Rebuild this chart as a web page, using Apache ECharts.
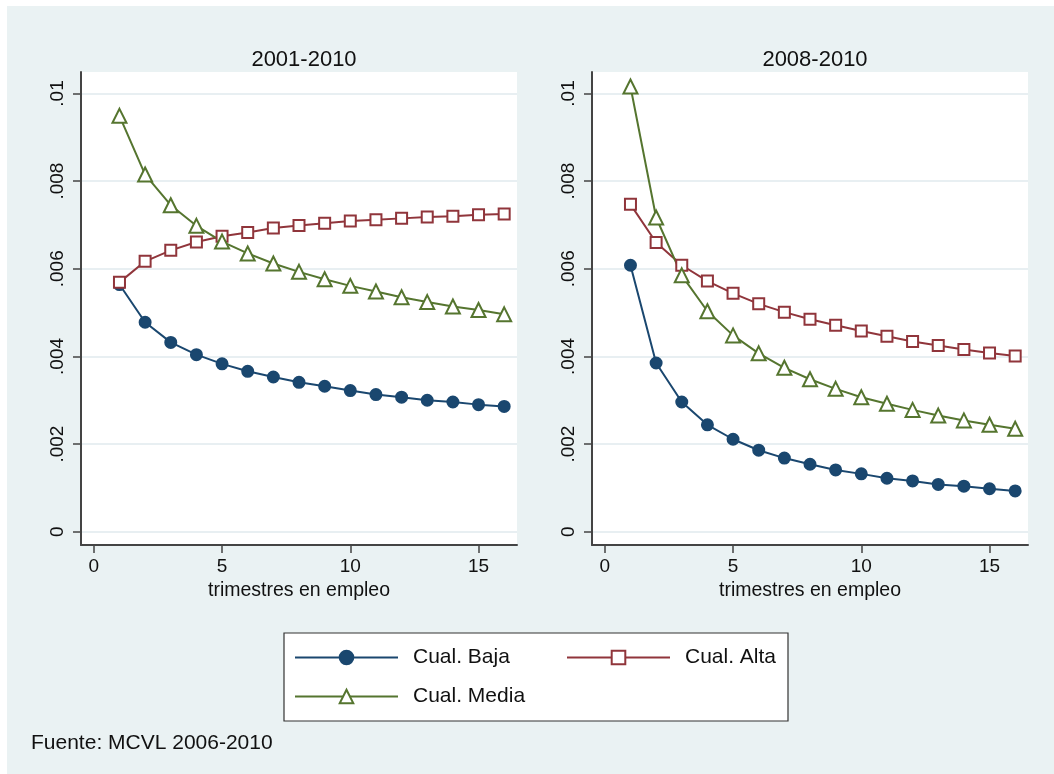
<!DOCTYPE html>
<html>
<head>
<meta charset="utf-8">
<script src="https://cdn.jsdelivr.net/npm/echarts@6/dist/echarts.min.js"></script>
<style>
  html, body { margin: 0; padding: 0; background: #fff; }
  #bg { position: absolute; left: 7px; top: 6px; width: 1047px; height: 768px; background: #eaf2f3; }
  #main { position: absolute; left: 0; top: 0; width: 1054px; height: 774px; }
</style>
</head>
<body>
<div id="bg"></div>
<div id="main"></div>
<script>
// trimestres en empleo
var quarters = [1, 2, 3, 4, 5, 6, 7, 8, 9, 10, 11, 12, 13, 14, 15, 16]
var xTicks = [0, 5, 10, 15]
var yTicks = [0, 0.002, 0.004, 0.006, 0.008, 0.01]
var panelTitles = ['2001-2010', '2008-2010']
var seriesNames = ['Cual. Baja', 'Cual. Alta', 'Cual. Media']

// 2001-2010
var bajaA = [0.00564, 0.00478, 0.00432, 0.00404, 0.00383, 0.00366, 0.00353, 0.00341, 0.00332, 0.00322, 0.00313, 0.00307, 0.00300, 0.00296, 0.00290, 0.00286]
var altaA = [0.00569, 0.00617, 0.00642, 0.00661, 0.00674, 0.00683, 0.00693, 0.00699, 0.00704, 0.00709, 0.00712, 0.00715, 0.00718, 0.00720, 0.00723, 0.00725]
var mediaA = [0.00949, 0.00815, 0.00745, 0.00698, 0.00662, 0.00635, 0.00612, 0.00593, 0.00576, 0.00561, 0.00548, 0.00535, 0.00524, 0.00514, 0.00506, 0.00496]

// 2008-2010
var bajaB = [0.00608, 0.00385, 0.00296, 0.00244, 0.00211, 0.00186, 0.00168, 0.00154, 0.00141, 0.00132, 0.00122, 0.00116, 0.00108, 0.00104, 0.00098, 0.00093]
var altaB = [0.00747, 0.00660, 0.00608, 0.00572, 0.00544, 0.00520, 0.00501, 0.00485, 0.00471, 0.00458, 0.00446, 0.00434, 0.00425, 0.00416, 0.00408, 0.00401]
var mediaB = [0.01016, 0.00717, 0.00585, 0.00503, 0.00448, 0.00407, 0.00374, 0.00348, 0.00326, 0.00307, 0.00292, 0.00278, 0.00265, 0.00254, 0.00244, 0.00235]

var colors = ['#1a476f', '#90353b', '#55752f']
var symbols = ['circle', 'emptyRect', 'emptyTriangle']
var symbolSizes = [11, 11, 14]
var font = 'Liberation Sans, Arial, sans-serif'

function pairs(vals) {
  return quarters.map(function (q, i) { return [q, vals[i]] })
}

function yLabel(v) {
  if (v === 0) return '0'
  return String(+v.toFixed(3)).replace(/^0/, '')
}

var myChart = echarts.init(document.getElementById('main'))

var grids = [
  { left: 81, top: 72, width: 436, height: 473 },
  { left: 592, top: 72, width: 436, height: 473 }
]

var xAxes = grids.map(function (g, i) {
  return {
    type: 'value',
    gridIndex: i,
    min: -0.5,
    max: 16.5,
    name: 'trimestres en empleo',
    nameLocation: 'middle',
    nameGap: 32,
    nameTextStyle: { color: '#111', fontSize: 19.5, fontFamily: font },
    axisLine: { onZero: false, lineStyle: { color: '#444', width: 2 } },
    axisTick: { show: true, length: 8, customValues: xTicks, lineStyle: { color: '#444', width: 1.5 } },
    axisLabel: { customValues: xTicks, margin: 12, color: '#111', fontSize: 19, fontFamily: font },
    splitLine: { show: false }
  }
})

var yAxes = grids.map(function (g, i) {
  return {
    type: 'value',
    gridIndex: i,
    min: -0.000303,
    max: 0.01049,
    axisLine: { show: true, onZero: false, lineStyle: { color: '#444', width: 2 } },
    axisTick: { show: true, length: 8, customValues: yTicks, lineStyle: { color: '#444', width: 1.5 } },
    axisLabel: {
      customValues: yTicks,
      rotate: 90,
      margin: 14,
      color: '#111',
      fontSize: 19,
      fontFamily: font,
      formatter: yLabel
    },
    splitLine: { show: true, lineStyle: { color: '#e8eff2', width: 2 } }
  }
})

var panels = [[bajaA, altaA, mediaA], [bajaB, altaB, mediaB]]
var series = []
panels.forEach(function (set, p) {
  set.forEach(function (vals, k) {
    series.push({
      name: seriesNames[k],
      type: 'line',
      xAxisIndex: p,
      yAxisIndex: p,
      data: pairs(vals),
      symbol: symbols[k],
      symbolSize: symbolSizes[k],
      showAllSymbol: true,
      lineStyle: { color: colors[k], width: 2 },
      itemStyle: { color: colors[k], borderColor: colors[k], borderWidth: 2 }
    })
  })
})

var option = {
  animation: false,
  backgroundColor: 'transparent',
  title: [
    { text: panelTitles[0], left: 299, top: 44, textAlign: 'center',
      textStyle: { color: '#111', fontWeight: 'normal', fontSize: 22, fontFamily: font } },
    { text: panelTitles[1], left: 810, top: 44, textAlign: 'center',
      textStyle: { color: '#111', fontWeight: 'normal', fontSize: 22, fontFamily: font } },
    { text: 'Fuente: MCVL 2006-2010', left: 31, top: 733, padding: 0,
      textStyle: { color: '#111', fontWeight: 'normal', fontSize: 21, fontFamily: font } }
  ],
  grid: grids.map(function (g) {
    return Object.assign({ show: true, backgroundColor: '#fff', borderWidth: 0 }, g)
  }),
  legend: {
    left: 284,
    top: 633,
    width: 486,
    orient: 'horizontal',
    padding: [14, 10, 14, 10],
    itemGap: 18,
    itemWidth: 103,
    itemHeight: 17,
    backgroundColor: '#fff',
    borderColor: '#333',
    borderWidth: 1.2,
    borderRadius: 0,
    textStyle: { color: '#111', fontSize: 21, fontFamily: font, lineHeight: 20, padding: [0, 0, 0, 10] },
    data: [
      { name: seriesNames[0], textStyle: { width: 135 } },
      { name: seriesNames[1], textStyle: { width: 93 } },
      { name: seriesNames[2], textStyle: { width: 135 } }
    ]
  },
  xAxis: xAxes,
  yAxis: yAxes,
  series: series
}

myChart.setOption(option)
</script>
</body>
</html>
